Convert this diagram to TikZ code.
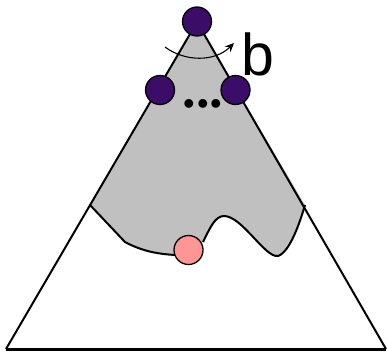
\documentclass[tikz,border=0pt]{standalone}
\usepackage{fontspec}
\setmainfont{Liberation Sans}
\newfontfamily\dotfont{Liberation Serif}
\usetikzlibrary{arrows.meta}
\definecolor{regiongray}{RGB}{192,192,192}
\definecolor{violetdot}{RGB}{60,12,105}
\definecolor{pinkdot}{RGB}{255,150,150}
\tikzset{
  edge/.style={line width=2pt, line join=round},
  ball/.style={circle, draw=black, line width=1.3pt, minimum size=29pt, inner sep=0pt},
  blabel/.style={inner sep=0pt, font=\fontsize{59}{59}\selectfont},
}
\begin{document}
\begin{tikzpicture}[x=1pt,y=-1pt]
\useasboundingbox (0,0) rectangle (387,351);
% shaded region
\fill[fill=regiongray] (197,22) -- (90,205) -- (125,242) .. controls (140,250) and (155,254) .. (176,255)
  -- (203,242) .. controls (210,228) and (215,216) .. (224,216)
  .. controls (242,216) and (265,258) .. (278,256)
  .. controls (290,252) and (300,222) .. (305,205) -- cycle;
\draw[edge] (90,205) -- (125,242) .. controls (140,250) and (155,254) .. (176,255);
\draw[edge] (203,242) .. controls (210,228) and (215,216) .. (224,216)
  .. controls (242,216) and (265,258) .. (278,256)
  .. controls (290,252) and (300,222) .. (305,205);
% triangle
\coordinate (apex) at (197,22);
\coordinate (bl) at (6,349);
\coordinate (br) at (386,349);
\draw[edge] (br) -- (apex) -- (bl);
\draw[line width=3pt] (bl) -- (br);
% balls
\node[ball, fill=violetdot] (top) at (197,21.5) {};
\node[ball, fill=violetdot] (left) at (160,90) {};
\node[ball, fill=violetdot] (right) at (235.5,90) {};
\node[ball, fill=pinkdot] (pink) at (188.5,250) {};
% dots
\node[inner sep=0pt, anchor=base, font=\fontsize{54}{54}\selectfont\dotfont\bfseries] (dots) at (203,107) {...};
% arrow
\coordinate (as) at (165,47);
\coordinate (ae) at (234,43);
\draw[line width=1.1pt, -{Stealth[length=9pt,width=8pt]}] (as) .. controls (185,62) and (215,62) .. (ae);
\node[blabel, anchor=base west] (b) at (241,75) {b};
\end{tikzpicture}
\end{document}
